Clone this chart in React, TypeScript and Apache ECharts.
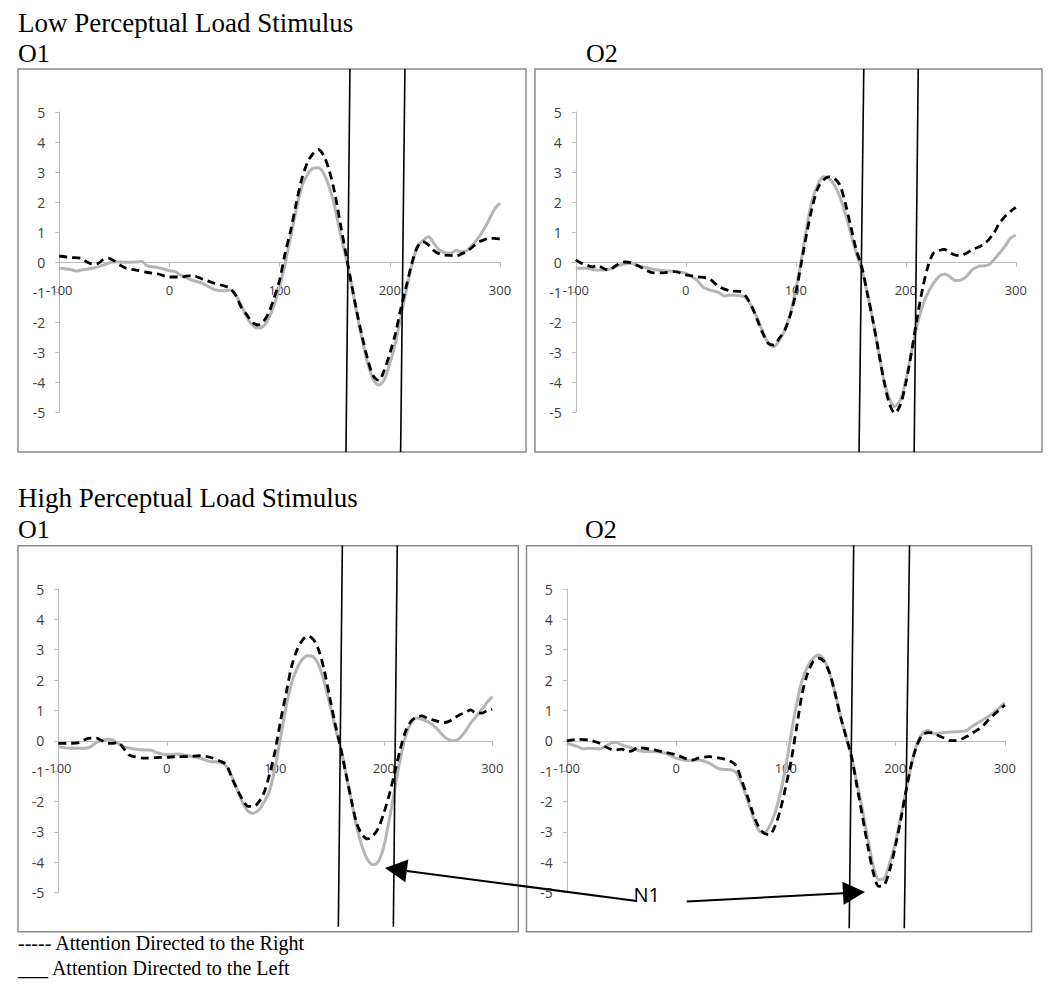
import React, { useEffect, useRef } from "react";
import * as echarts from "echarts";

// ---------- text ----------
const sectionTitles = ["Low Perceptual Load Stimulus", "High Perceptual Load Stimulus"];
const panelNames = ["O1", "O2", "O1", "O2"];
const legendLines = ["----- Attention Directed to the Right", "___ Attention Directed to the Left"];
const seriesNames = ["Attention Directed to the Right", "Attention Directed to the Left"];
const peakLabel = "N1";

// ---------- axes ----------
const xMin = -100;
const xMax = 300;
const xStep = 100;
const yMin = -5;
const yMax = 5;
const yStep = 1;

// ---------- data: [time ms, amplitude µV] ----------
const lowO1Right = [[-100,0.2],[-90,0.15],[-80,0.12],[-75,0.0],[-70,-0.07],[-65,-0.05],[-60,0.08],[-55,0.12],[-50,0.03],[-45,-0.1],[-40,-0.2],[-30,-0.27],[-20,-0.35],[-10,-0.4],[0,-0.5],[10,-0.5],[20,-0.45],[30,-0.57],[40,-0.7],[50,-0.8],[55,-0.88],[60,-1.1],[65,-1.5],[70,-1.75],[75,-2.0],[80,-2.1],[85,-2.0],[90,-1.7],[95,-1.2],[100,-0.6],[105,0.3],[110,1.05],[115,1.95],[120,2.75],[125,3.3],[130,3.6],[135,3.75],[140,3.55],[145,3.05],[150,2.3],[155,1.3],[160,0.3],[165,-0.7],[170,-1.65],[175,-2.5],[180,-3.25],[185,-3.8],[190,-3.95],[195,-3.6],[200,-3.05],[205,-2.4],[210,-1.55],[215,-0.8],[220,-0.05],[225,0.5],[230,0.68],[235,0.57],[240,0.38],[245,0.27],[250,0.23],[255,0.22],[260,0.2],[265,0.27],[270,0.35],[275,0.5],[280,0.65],[285,0.73],[290,0.79],[295,0.79],[300,0.77]];
const lowO1Left = [[-100,-0.21],[-90,-0.25],[-85,-0.3],[-80,-0.27],[-70,-0.21],[-60,-0.1],[-50,0.01],[-40,-0.01],[-30,0],[-25,0.02],[-20,-0.13],[-10,-0.19],[0,-0.29],[5,-0.32],[10,-0.43],[20,-0.6],[30,-0.71],[40,-0.91],[50,-0.96],[55,-0.93],[60,-1.1],[65,-1.43],[70,-1.82],[75,-2.1],[80,-2.2],[85,-2.15],[90,-1.88],[95,-1.43],[100,-0.82],[105,-0.04],[110,0.84],[115,1.73],[120,2.5],[125,2.9],[130,3.12],[135,3.14],[140,2.95],[145,2.5],[150,1.84],[155,0.96],[160,0.18],[165,-0.71],[170,-1.71],[175,-2.6],[180,-3.38],[185,-3.93],[190,-4.1],[195,-3.93],[200,-3.38],[205,-2.71],[210,-1.82],[215,-0.93],[220,-0.1],[225,0.51],[230,0.71],[235,0.84],[240,0.62],[245,0.4],[250,0.31],[255,0.29],[260,0.38],[265,0.34],[270,0.38],[275,0.57],[280,0.79],[285,1.07],[290,1.4],[295,1.76],[300,1.96]];
const lowO2Right = [[-100,0.07],[-95,-0.04],[-90,-0.1],[-85,-0.16],[-80,-0.12],[-75,-0.21],[-70,-0.27],[-65,-0.16],[-60,-0.04],[-55,0.0],[-50,-0.02],[-45,-0.1],[-40,-0.19],[-35,-0.29],[-30,-0.36],[-20,-0.36],[-10,-0.32],[0,-0.43],[10,-0.49],[20,-0.54],[25,-0.66],[30,-0.82],[40,-0.96],[50,-0.99],[55,-1.16],[60,-1.49],[65,-1.93],[70,-2.38],[75,-2.71],[80,-2.77],[85,-2.54],[90,-2.27],[95,-1.77],[100,-1.04],[105,-0.04],[110,0.96],[115,1.84],[120,2.46],[125,2.73],[130,2.84],[135,2.79],[140,2.57],[145,1.96],[150,1.18],[155,0.4],[160,-0.16],[165,-1.04],[170,-1.93],[175,-2.93],[180,-3.93],[185,-4.71],[190,-5.04],[195,-4.77],[200,-4.04],[205,-3.04],[210,-1.93],[215,-0.93],[220,-0.16],[225,0.29],[230,0.38],[235,0.42],[240,0.31],[245,0.23],[250,0.22],[255,0.29],[260,0.4],[270,0.57],[275,0.73],[280,0.96],[285,1.29],[290,1.51],[295,1.68],[300,1.82]];
const lowO2Left = [[-100,-0.21],[-90,-0.21],[-80,-0.27],[-70,-0.24],[-60,-0.1],[-50,-0.04],[-40,-0.16],[-30,-0.24],[-20,-0.29],[-10,-0.32],[0,-0.38],[10,-0.6],[15,-0.82],[20,-0.91],[30,-1.02],[35,-1.13],[40,-1.1],[50,-1.13],[55,-1.21],[60,-1.49],[65,-1.88],[70,-2.32],[75,-2.71],[80,-2.82],[85,-2.6],[90,-2.27],[95,-1.71],[100,-0.93],[105,0.07],[110,1.18],[115,2.07],[120,2.57],[125,2.84],[130,2.79],[135,2.57],[140,2.18],[145,1.62],[150,0.96],[155,0.29],[160,-0.27],[165,-1.04],[170,-1.93],[175,-2.93],[180,-3.93],[185,-4.54],[190,-4.82],[195,-4.6],[200,-3.93],[205,-3.04],[210,-2.16],[215,-1.49],[220,-1.04],[225,-0.71],[230,-0.49],[235,-0.4],[240,-0.49],[245,-0.62],[250,-0.6],[255,-0.49],[260,-0.27],[265,-0.16],[270,-0.13],[275,-0.1],[280,0.07],[285,0.29],[290,0.51],[295,0.79],[300,0.9]];
const highO1Right = [[-100,-0.08],[-90,-0.08],[-80,-0.05],[-75,0.05],[-70,0.09],[-65,0.09],[-60,0.01],[-55,-0.08],[-50,-0.08],[-45,-0.05],[-40,-0.24],[-35,-0.46],[-30,-0.52],[-20,-0.57],[-10,-0.55],[0,-0.54],[10,-0.52],[20,-0.52],[30,-0.49],[40,-0.54],[50,-0.68],[55,-0.79],[60,-1.23],[65,-1.61],[70,-1.94],[75,-2.16],[80,-2.16],[85,-2.0],[90,-1.67],[95,-1.06],[100,-0.3],[105,0.69],[110,1.57],[115,2.45],[120,2.99],[125,3.32],[130,3.45],[135,3.34],[140,2.99],[145,2.34],[150,1.46],[155,0.58],[160,-0.19],[165,-1.06],[170,-1.94],[175,-2.71],[180,-3.09],[185,-3.23],[190,-3.12],[195,-2.87],[200,-2.38],[205,-1.78],[210,-1.06],[215,-0.3],[220,0.31],[225,0.64],[230,0.78],[235,0.82],[240,0.75],[245,0.69],[250,0.64],[255,0.6],[260,0.64],[265,0.75],[270,0.86],[275,0.93],[280,1.02],[285,0.91],[290,0.91],[295,0.99],[300,1.04]];
const highO1Left = [[-100,-0.19],[-90,-0.24],[-80,-0.24],[-75,-0.24],[-70,-0.19],[-65,-0.05],[-60,0.01],[-55,0.05],[-50,0.03],[-45,-0.08],[-40,-0.19],[-30,-0.27],[-20,-0.3],[-15,-0.3],[-10,-0.38],[0,-0.46],[10,-0.43],[20,-0.49],[30,-0.57],[40,-0.68],[50,-0.71],[55,-0.84],[60,-1.17],[65,-1.61],[70,-2.05],[75,-2.32],[80,-2.38],[85,-2.27],[90,-2.0],[95,-1.61],[100,-0.84],[105,0.14],[110,1.13],[115,1.9],[120,2.39],[125,2.69],[130,2.8],[135,2.77],[140,2.5],[145,1.95],[150,1.24],[155,0.47],[160,-0.19],[165,-1.06],[170,-1.94],[175,-2.82],[180,-3.48],[185,-3.91],[190,-4.08],[195,-3.97],[200,-3.48],[205,-2.6],[210,-1.61],[215,-0.63],[220,0.14],[225,0.58],[230,0.75],[235,0.71],[240,0.64],[245,0.53],[250,0.36],[255,0.16],[260,0.03],[265,0.0],[270,0.09],[275,0.31],[280,0.58],[285,0.8],[290,1.02],[295,1.26],[300,1.46]];
const highO2Right = [[-100,0],[-90,0.05],[-80,0.03],[-70,-0.08],[-65,-0.19],[-60,-0.27],[-55,-0.3],[-50,-0.27],[-45,-0.35],[-40,-0.32],[-35,-0.22],[-30,-0.24],[-20,-0.3],[-10,-0.38],[0,-0.46],[10,-0.6],[15,-0.63],[20,-0.57],[30,-0.52],[40,-0.57],[50,-0.68],[55,-0.84],[60,-1.34],[65,-1.83],[70,-2.38],[75,-2.82],[80,-3.04],[85,-3.09],[90,-2.82],[95,-2.27],[100,-1.5],[105,-0.63],[110,0.47],[115,1.57],[120,2.23],[125,2.61],[130,2.72],[135,2.61],[140,2.23],[145,1.57],[150,0.8],[155,0.14],[160,-0.52],[165,-1.5],[170,-2.49],[175,-3.48],[180,-4.35],[185,-4.79],[190,-4.74],[195,-4.24],[200,-3.48],[205,-2.6],[210,-1.61],[215,-0.73],[220,-0.13],[225,0.2],[230,0.27],[235,0.25],[240,0.16],[245,0.09],[250,0.01],[255,0.01],[260,0.05],[265,0.14],[270,0.25],[275,0.36],[280,0.49],[285,0.69],[290,0.86],[295,1.02],[300,1.18]];
const highO2Left = [[-100,-0.08],[-90,-0.19],[-85,-0.27],[-80,-0.24],[-70,-0.27],[-65,-0.19],[-60,-0.08],[-55,-0.05],[-50,-0.13],[-40,-0.24],[-30,-0.35],[-20,-0.35],[-10,-0.41],[0,-0.57],[10,-0.65],[20,-0.63],[30,-0.73],[40,-0.93],[50,-0.95],[55,-1.06],[60,-1.45],[65,-1.94],[70,-2.49],[75,-2.93],[80,-3.04],[85,-2.82],[90,-2.38],[95,-1.72],[100,-0.84],[105,0.25],[110,1.24],[115,2.01],[120,2.45],[125,2.72],[130,2.83],[135,2.66],[140,2.23],[145,1.57],[150,0.8],[155,0.14],[160,-0.52],[165,-1.39],[170,-2.27],[175,-3.26],[180,-4.13],[185,-4.57],[190,-4.52],[195,-4.02],[200,-3.37],[205,-2.49],[210,-1.61],[215,-0.73],[220,-0.08],[225,0.25],[230,0.34],[235,0.23],[240,0.25],[250,0.29],[260,0.31],[265,0.34],[270,0.47],[280,0.69],[290,0.93],[300,1.26]];

// N1 window lines drawn by hand on each panel: [top point, bottom point] in data units
const lowO1Window = [[[163.8, 6.43], [160.2, -6.33]], [[213.7, 6.43], [209.8, -6.33]]];
const lowO2Window = [[[161.8, 6.43], [157.5, -6.33]], [[211.3, 6.43], [207.6, -6.33]]];
const highO1Window = [[[161.8, 6.43], [158.1, -6.12]], [[212.4, 6.43], [208.8, -6.12]]];
const highO2Window = [[[162.0, 6.43], [157.9, -6.17]], [[213.0, 6.43], [208.2, -6.17]]];

// N1 annotation arrows: [grid index, from, to] in data units of that grid
const n1ArrowLeft = [2, [433.1, -5.27], [201.1, -4.19]];
const n1ArrowRight = [3, [9.5, -5.29], [172.3, -4.98]];
const n1LabelPos = [3, [-39.2, -5.05]];

const rightSeries = [lowO1Right, lowO2Right, highO1Right, highO2Right];
const leftSeries = [lowO1Left, lowO2Left, highO1Left, highO2Left];
const windows = [lowO1Window, lowO2Window, highO1Window, highO2Window];

// ---------- layout ----------
const grids = [
  { left: 59.3, top: 112, width: 440.7, height: 300 },
  { left: 575.8, top: 112, width: 440, height: 300 },
  { left: 58.3, top: 589, width: 434, height: 303.7 },
  { left: 566.8, top: 589, width: 438, height: 303.7 },
];
const boxes = [
  { x: 18, y: 69, width: 508, height: 383 },
  { x: 535, y: 69, width: 507, height: 383 },
  { x: 18, y: 545.7, width: 500.3, height: 386 },
  { x: 526.5, y: 545.7, width: 505, height: 386 },
];
const panelNamePos = [
  [18, 53],
  [586, 53],
  [18, 529],
  [585, 529],
];
const sectionTitlePos = [
  [18, 23],
  [18, 498],
];
const legendPos = [
  [18, 943],
  [18, 968],
];

const SERIF = '"Liberation Serif", "Times New Roman", serif';
const SANS = '"Open Sans", "Noto Sans", sans-serif';

function buildOption() {
  const xAxis: any[] = [];
  const yAxis: any[] = [];
  const series: any[] = [];
  grids.forEach((g, i) => {
    // place the x axis on the zero line of the y scale
    const zeroFrac = (0 - yMin) / (yMax - yMin);
    xAxis.push({
      type: "value",
      gridIndex: i,
      position: "bottom",
      offset: -g.height * zeroFrac,
      min: xMin,
      max: xMax,
      interval: xStep,
      axisLine: { show: true, onZero: false, lineStyle: { color: "#bdbdbd", width: 1 } },
      axisTick: { show: true, length: 5, lineStyle: { color: "#bdbdbd" } },
      axisLabel: { color: "#404040", fontSize: 13, fontFamily: SANS, margin: 21, hideOverlap: false },
      splitLine: { show: false },
    });
    yAxis.push({
      type: "value",
      gridIndex: i,
      min: yMin,
      max: yMax,
      interval: yStep,
      axisLine: { show: true, onZero: false, lineStyle: { color: "#bdbdbd", width: 1 } },
      axisTick: { show: true, length: 4, lineStyle: { color: "#bdbdbd" } },
      axisLabel: { color: "#404040", fontSize: 14, fontFamily: SANS, margin: 14 },
      splitLine: { show: false },
    });
    series.push({
      type: "line",
      name: seriesNames[1],
      xAxisIndex: i,
      yAxisIndex: i,
      data: leftSeries[i],
      showSymbol: false,
      smooth: 0.3,
      lineStyle: { color: "#b5b5b5", width: 3 },
      z: 2,
    });
    series.push({
      type: "line",
      name: seriesNames[0],
      xAxisIndex: i,
      yAxisIndex: i,
      data: rightSeries[i],
      showSymbol: false,
      smooth: 0.3,
      lineStyle: { color: "#000000", width: 2.8, type: [8, 5] },
      z: 3,
    });
    windows[i].forEach((seg) => {
      series.push({
        type: "line",
        xAxisIndex: i,
        yAxisIndex: i,
        data: seg,
        showSymbol: false,
        clip: false,
        silent: true,
        lineStyle: { color: "#000000", width: 1.6 },
        z: 4,
      });
    });
  });

  const graphic: any[] = [];
  boxes.forEach((b) => {
    graphic.push({
      type: "rect",
      shape: { ...b },
      style: { fill: "none", stroke: "#8a8a8a", lineWidth: 1.5 },
      z: 0,
    });
  });
  sectionTitles.forEach((t, i) => {
    graphic.push({
      type: "text",
      x: sectionTitlePos[i][0],
      y: sectionTitlePos[i][1],
      style: { text: t, fill: "#000", fontSize: 27, fontFamily: SERIF, textAlign: "left", textVerticalAlign: "middle" },
    });
  });
  panelNames.forEach((t, i) => {
    graphic.push({
      type: "text",
      x: panelNamePos[i][0],
      y: panelNamePos[i][1],
      style: { text: t, fill: "#000", fontSize: 26, fontFamily: SERIF, textAlign: "left", textVerticalAlign: "middle" },
    });
  });
  legendLines.forEach((t, i) => {
    graphic.push({
      type: "text",
      x: legendPos[i][0],
      y: legendPos[i][1],
      style: { text: t, fill: "#000", fontSize: 20, fontFamily: SERIF, textAlign: "left", textVerticalAlign: "middle" },
    });
  });

  return {
    animation: false,
    backgroundColor: "#ffffff",
    grid: grids.map((g) => ({ ...g, containLabel: false })),
    xAxis,
    yAxis,
    series,
    graphic,
  };
}

function arrowElements(chart: any, spec: any[]) {
  const [gi, from, to] = spec;
  const p0 = chart.convertToPixel({ gridIndex: gi }, from);
  const p1 = chart.convertToPixel({ gridIndex: gi }, to);
  const dx = p1[0] - p0[0];
  const dy = p1[1] - p0[1];
  const len = Math.sqrt(dx * dx + dy * dy);
  const ux = dx / len;
  const uy = dy / len;
  const headLen = 22;
  const halfW = 11.5;
  const bx = p1[0] - ux * headLen;
  const by = p1[1] - uy * headLen;
  const px = -uy;
  const py = ux;
  return [
    {
      type: "line",
      shape: { x1: p0[0], y1: p0[1], x2: bx, y2: by },
      style: { stroke: "#000", lineWidth: 2 },
      z: 10,
    },
    {
      type: "polygon",
      shape: {
        points: [
          [p1[0], p1[1]],
          [bx + px * halfW, by + py * halfW],
          [bx - px * halfW, by - py * halfW],
        ],
      },
      style: { fill: "#000", stroke: "none" },
      z: 10,
    },
  ];
}

export default function App() {
  const ref = useRef<HTMLDivElement>(null);
  useEffect(() => {
    if (!ref.current) return;
    const chart = echarts.init(ref.current, undefined, { renderer: "svg" });
    const option: any = buildOption();
    chart.setOption(option);
    const lp = chart.convertToPixel({ gridIndex: n1LabelPos[0] as number }, n1LabelPos[1] as number[]);
    const extra = [
      ...arrowElements(chart, n1ArrowLeft),
      ...arrowElements(chart, n1ArrowRight),
      {
        type: "text",
        x: lp[0],
        y: lp[1],
        z: 10,
        style: { text: peakLabel, fill: "#000", fontSize: 20, fontFamily: SANS, textAlign: "left", textVerticalAlign: "middle" },
      },
    ];
    chart.setOption({ graphic: [...option.graphic, ...extra] });
    return () => chart.dispose();
  }, []);
  return (
    <div
      ref={ref}
      style={{ position: "absolute", left: 0, top: 0, width: 1050, height: 989, background: "#fff" }}
    />
  );
}
